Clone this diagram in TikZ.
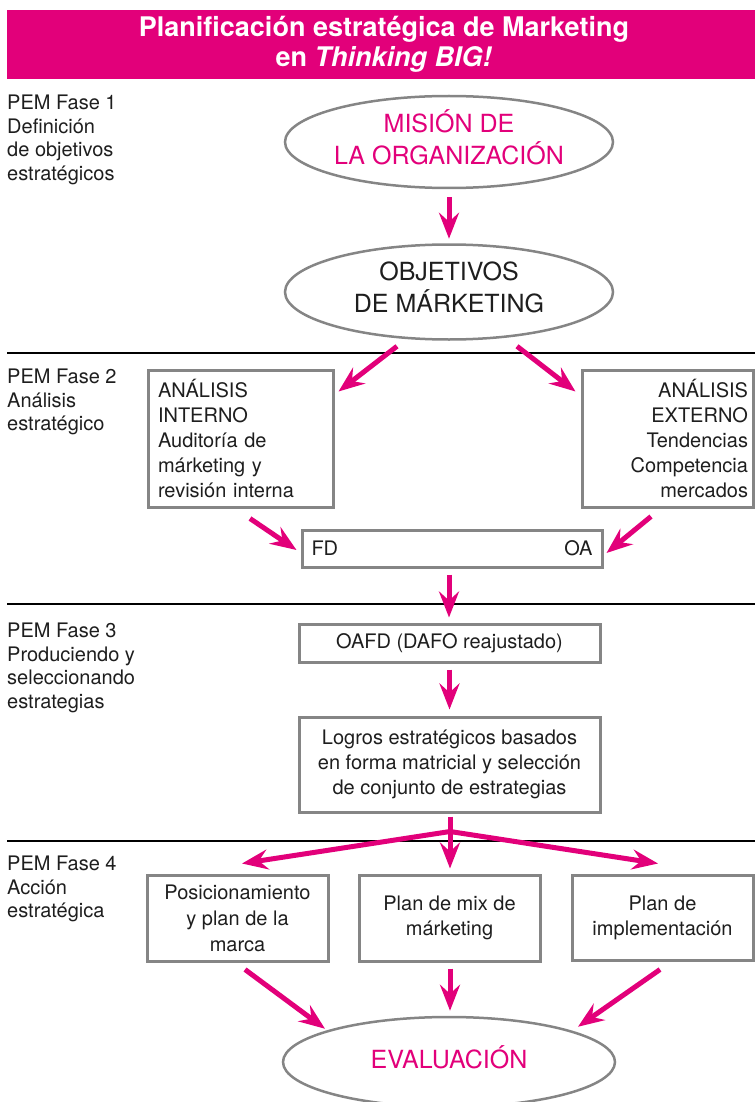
\documentclass[tikz,border=0pt]{standalone}
\usepackage{fontspec}
\setmainfont{TeX Gyre Heros}
\usetikzlibrary{arrows.meta,shapes.geometric,calc}
\definecolor{pem}{HTML}{E2007A}
\definecolor{edge}{HTML}{858585}
\definecolor{ink}{HTML}{1E1E1E}
\newcommand\liftby[2]{\raisebox{#1}[\height][\depth]{\begin{tabular}{@{}c@{}}#2\end{tabular}}}
\begin{document}
\begin{tikzpicture}[x=1pt,y=-1pt,
  arr/.style={draw=pem,line width=5pt,-{Stealth[length=26pt,width=20pt,inset=9pt]}},
  ell/.style={ellipse,draw=edge,line width=2.5pt,inner sep=0pt,align=center,
    font=\fontsize{25}{31}\selectfont},
  box/.style={draw=edge,line width=3pt,inner sep=0pt,text=ink,
    font=\fontsize{20}{25}\selectfont,align=center},
  fase/.style={anchor=north west,inner sep=0pt,align=left,text=ink,
    font=\fontsize{20}{23.5}\selectfont},
  sep/.style={draw=black,line width=1.2pt}]
\useasboundingbox (0,0) rectangle (755,1102);
\clip (0,0) rectangle (755,1102);
% header
\fill[pem] (7,10) rectangle (755,79);
\node[text=white,align=center,inner sep=0pt,font=\fontsize{27}{29.5}\selectfont\bfseries]
  (title) at (384,44.5) {Planificación estratégica de Marketing\\en \textit{Thinking BIG!}};
% separators
\draw[sep] (7,353) -- (755,353);
\draw[sep] (7,604) -- (755,604);
\draw[sep] (7,841) -- (755,841);
% phase labels
\node[fase] (f1) at (7,95) {PEM Fase 1\\Definición\\de objetivos\\estratégicos};
\node[fase] (f2) at (7,369) {PEM Fase 2\\Análisis\\estratégico};
\node[fase] (f3) at (7,623) {PEM Fase 3\\Produciendo y\\seleccionando\\estrategias};
\node[fase] (f4) at (7,856) {PEM Fase 4\\Acción\\estratégica};
% ellipses
\node[ell,text=pem,minimum width=328pt,minimum height=92pt] (mision) at (449,142)
  {\liftby{0pt}{MISIÓN DE\\LA ORGANIZACIÓN}};
\node[ell,text=ink,minimum width=328pt,minimum height=95pt] (objetivos) at (449,292)
  {\liftby{2pt}{OBJETIVOS\\DE MÁRKETING}};
\node[ell,text=pem,minimum width=332pt,minimum height=90pt] (eval) at (449,1062)
  {\liftby{0pt}{EVALUACIÓN}};
% boxes
\node[box,minimum width=185pt,minimum height=137pt,text width=165pt,align=left]
  (interno) at (240.5,438.5)
  {ANÁLISIS\\INTERNO\\Auditoría de\\márketing y\\revisión interna};
\node[box,minimum width=171pt,minimum height=137pt,text width=161pt,align=right]
  (externo) at (667.5,438.5)
  {ANÁLISIS\\EXTERNO\\Tendencias\\Competencia\\mercados};
\node[box,minimum width=300pt,minimum height=37pt,text width=281pt,align=left]
  (fdoa) at (452,548.5) {FD\hfill OA};
\node[box,minimum width=301pt,minimum height=38pt] (oafd) at (449.5,643)
  {OAFD (DAFO reajustado)};
\node[box,minimum width=301pt,minimum height=95pt] (logros) at (449.5,764.5)
  {Logros estratégicos basados\\en forma matricial y selección\\de conjunto de estrategias};
\node[box,minimum width=181pt,minimum height=86pt,font=\fontsize{20}{26}\selectfont]
  (box1) at (237.5,918) {Posicionamiento\\y plan de la\\marca};
\node[box,minimum width=181pt,minimum height=86pt] (box2) at (449.5,918)
  {Plan de mix de\\márketing};
\node[box,minimum width=181pt,minimum height=85pt] (box3) at (662.5,917.5)
  {Plan de\\implementación};
% connectors
\draw[arr,shorten <=8pt,shorten >=4.5pt] (mision.south) -- (objetivos.north);
\draw[arr] ($(objetivos.south)+(-52,5.5)$) -- ($(interno.north east)+(4,23)$);
\draw[arr] ($(objetivos.south)+(68,5.5)$) -- ($(externo.north west)+(-5,23)$);
\draw[arr] ($(interno.south)+(9.5,10)$) -- ($(fdoa.west)+(-4,1.5)$);
\draw[arr] ($(externo.south)+(-16.5,8)$) -- ($(fdoa.east)+(3,4.5)$);
\draw[arr] ($(fdoa.south)+(-3,6)$) -- ($(oafd.north)+(-0.5,-5)$);
\draw[arr,shorten <=6pt,shorten >=6pt] (oafd.south) -- (logros.north);
\coordinate (fork) at ($(logros.south)+(0.5,18)$);
\draw[arr] ($(logros.south)+(0.5,3)$) -- ($(box2.north)+(0.5,-5)$);
\draw[arr] (fork) -- ($(box1.north)+(4.5,-10)$);
\draw[arr] (fork) -- ($(box3.north)+(-4.5,-10)$);
\draw[arr] ($(box1.south)+(7.5,7)$) -- ($(eval.north)+(-124,13)$);
\draw[arr] ($(box2.south)+(0.5,6)$) -- ($(eval.north)+(1,-5)$);
\draw[arr] ($(box3.south)+(-2.5,8)$) -- ($(eval.north)+(129,11)$);
\end{tikzpicture}
\end{document}
